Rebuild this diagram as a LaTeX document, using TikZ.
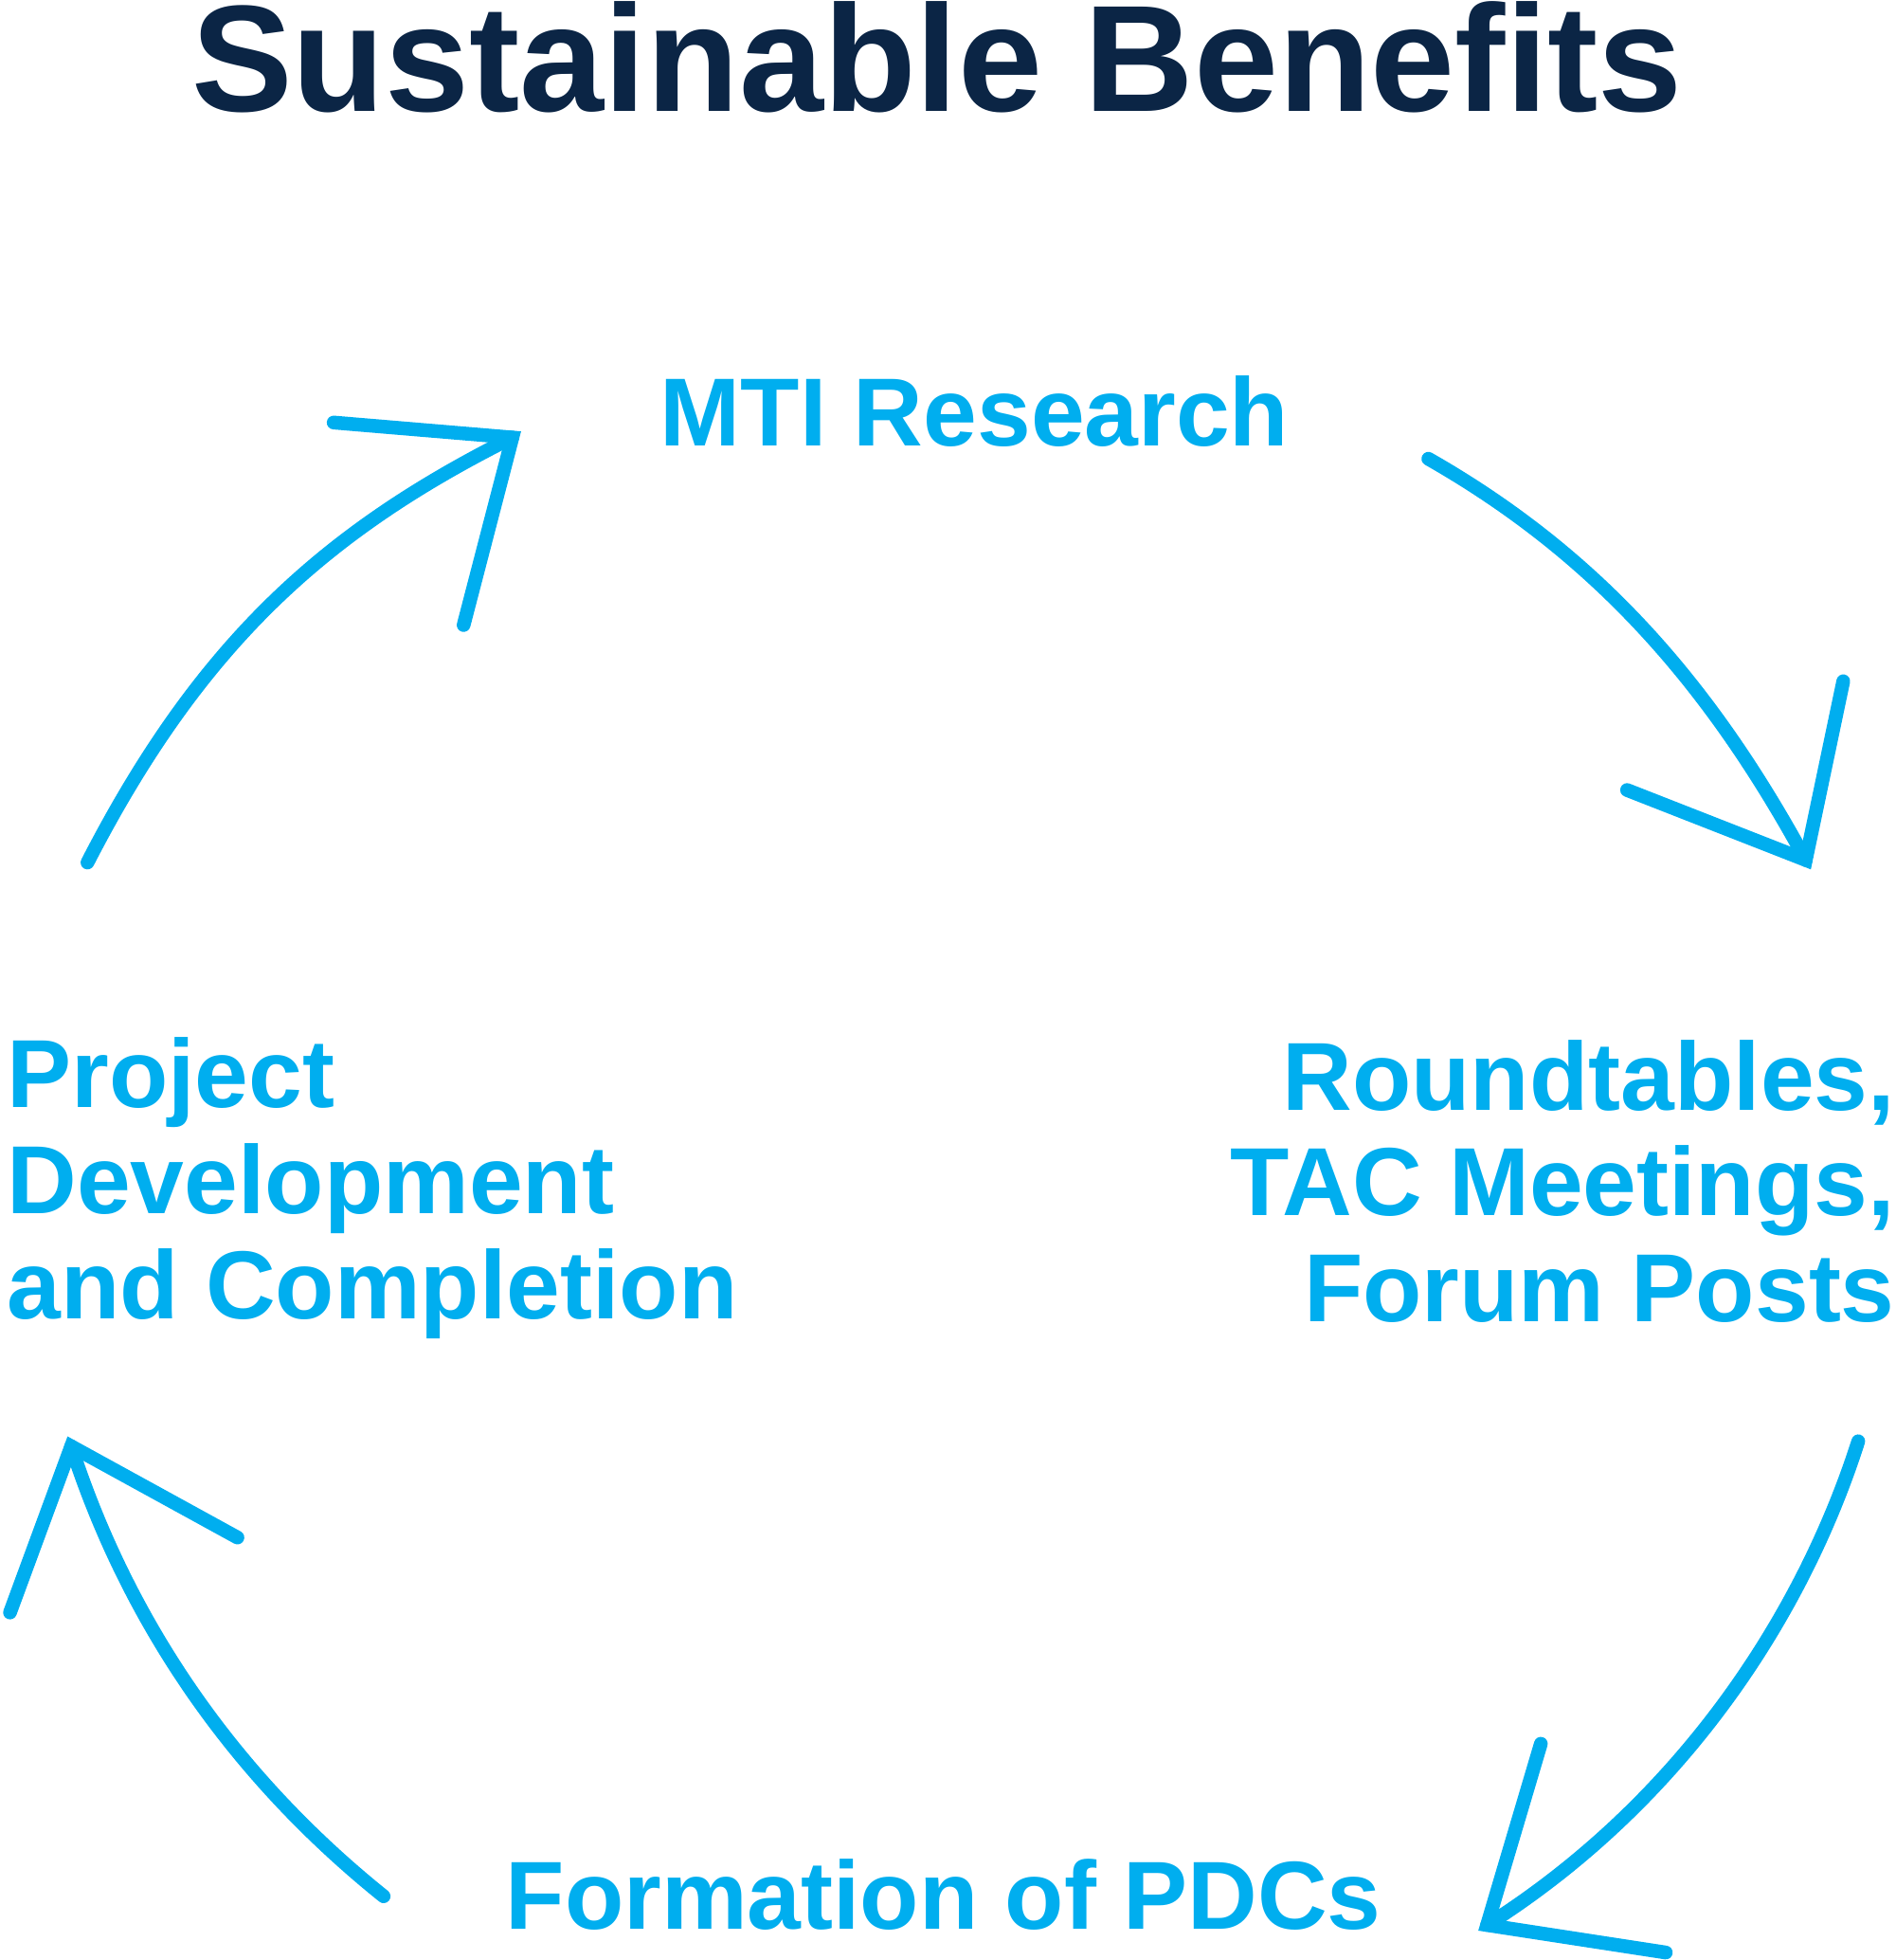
\documentclass[tikz,border=0pt]{standalone}
\usepackage{fontspec}
\setmainfont{Liberation Sans}
\definecolor{navy}{HTML}{0B2545}
\definecolor{cyan1}{HTML}{00AEEF}
\begin{document}
\begin{tikzpicture}[x=0.01cm,y=-0.01cm,
  arc/.style={draw=cyan1,line width=0.11cm,line cap=round,line join=miter},
  lbl/.style={text=cyan1,font=\fontsize{22}{24}\selectfont\bfseries,inner sep=0pt}]
\useasboundingbox (0,0) rectangle (1517,1568);
\node[text=navy,font=\fontsize{34.5}{36}\selectfont\bfseries,inner sep=0pt,anchor=base] (title) at (750,89) {Sustainable Benefits};
\node[lbl,anchor=base] (mti) at (780,357) {MTI Research};
\node[lbl,anchor=base west,align=left] (pdc) at (5,1055) {Project\\Development\\and Completion};
\node[lbl,anchor=base east,align=right] (rt) at (1517,1057) {Roundtables,\\TAC Meetings,\\Forum Posts};
\node[lbl,anchor=base] (form) at (755,1543) {Formation of PDCs};
% arrow 1
\coordinate (a1s) at (70,690); \coordinate (a1e) at (410,350);
\draw[arc] (a1s) .. controls (160,515) and (260,425) .. (a1e);
\coordinate (h1a) at (267,338); \coordinate (h1b) at (371,500);
\draw[arc] (h1a) -- (a1e) -- (h1b);
% arrow 2
\coordinate (a2s) at (1143,367); \coordinate (a2e) at (1445,688);
\draw[arc] (a2s) .. controls (1280,445) and (1370,550) .. (a2e);
\coordinate (h2a) at (1302,632); \coordinate (h2b) at (1475,545);
\draw[arc] (h2a) -- (a2e) -- (h2b);
% arrow 3
\coordinate (a3s) at (1487,1153); \coordinate (a3e) at (1190,1540);
\draw[arc] (a3s) .. controls (1440,1300) and (1340,1445) .. (a3e);
\coordinate (h3a) at (1233,1395); \coordinate (h3b) at (1333,1562);
\draw[arc] (h3a) -- (a3e) -- (h3b);
% arrow 4
\coordinate (a4s) at (307,1517); \coordinate (a4e) at (57,1157);
\draw[arc] (a4s) .. controls (180,1415) and (100,1290) .. (a4e);
\coordinate (h4a) at (190,1230); \coordinate (h4b) at (8,1290);
\draw[arc] (h4a) -- (a4e) -- (h4b);
\end{tikzpicture}
\end{document}
